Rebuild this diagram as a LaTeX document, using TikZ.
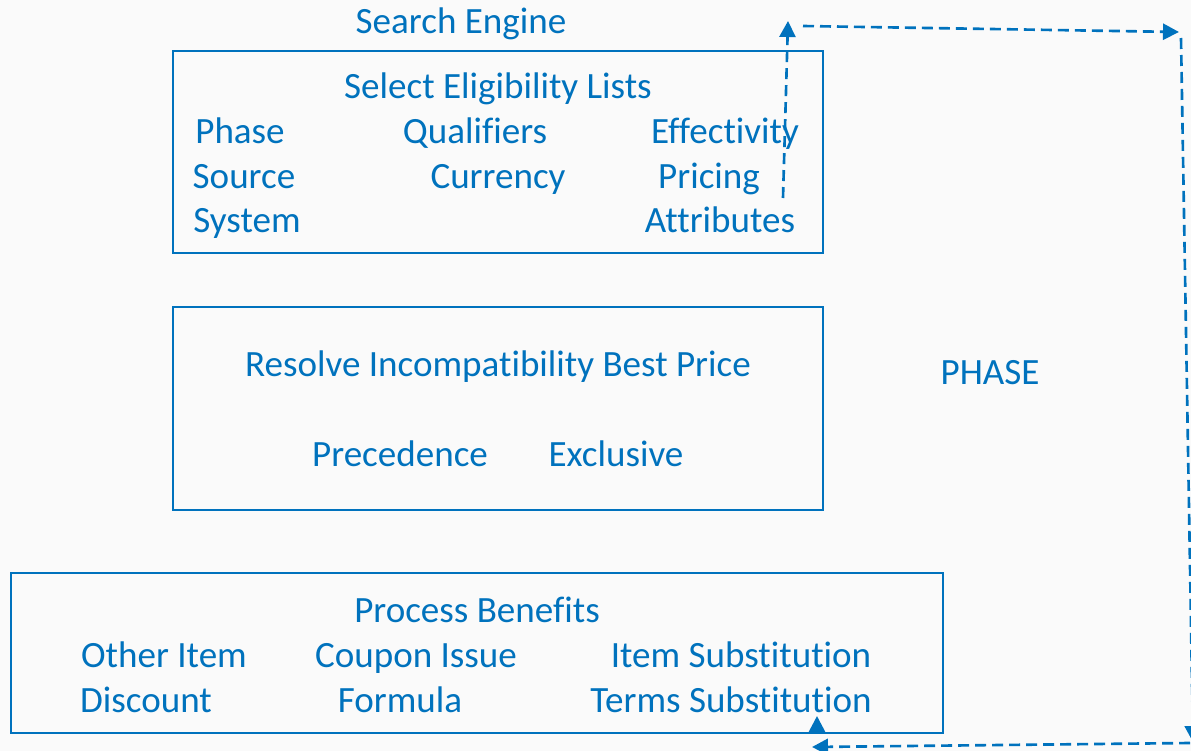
\documentclass[tikz,border=0pt]{standalone}
\usepackage{fontspec}
\setmainfont[RawFeature=-liga]{Carlito}
\usetikzlibrary{arrows.meta}
\definecolor{blu}{RGB}{0,114,189}
\definecolor{paper}{RGB}{250,250,250}
\begin{document}
\begin{tikzpicture}[x=0.02cm, y=-0.02cm,
  box/.style={draw=blu, line width=1.1pt, inner sep=0pt},
  lbl/.style={text=blu, anchor=base, inner sep=0pt, font=\fontsize{21.1}{25}\selectfont},
  flow/.style={draw=blu, line width=1.5pt, dash pattern=on 0.22cm off 0.12cm, -{Triangle[length=0.32cm, width=0.32cm]}}]
\fill [paper] (0,0) rectangle (1191,751);
\useasboundingbox (0,0) rectangle (1191,751);
% boxes
\node (sel) [box, minimum width=13cm, minimum height=4.04cm] at (498,152) {};
\node (res) [box, minimum width=13cm, minimum height=4.06cm] at (498,408.5) {};
\node (ben) [box, minimum width=18.64cm, minimum height=3.2cm] at (477,653) {};
% labels
\node (eng) [lbl] at (461,33) {Search Engine};
\node (selt) [lbl] at (498,98) {Select Eligibility Lists};
\node (pha) [lbl] at (240,143) {Phase};
\node (qua) [lbl] at (475,143) {Qualifiers};
\node (eff) [lbl] at (725,143) {Effectivity};
\node (sou) [lbl] at (244,188) {Source};
\node (cur) [lbl] at (498,188) {Currency};
\node (pri) [lbl] at (709,188) {Pricing};
\node (sys) [lbl] at (247,232) {System};
\node (att) [lbl] at (720,232) {Attributes};
\node (rest) [lbl] at (498,376) {Resolve Incompatibility Best Price};
\node (pre) [lbl] at (400,466) {Precedence};
\node (exc) [lbl] at (616,466) {Exclusive};
\node (phs) [lbl] at (990,384) {PHASE};
\node (bent) [lbl] at (477,622) {Process Benefits};
\node (oth) [lbl] at (164,667) {Other Item};
\node (cou) [lbl] at (416,667) {Coupon Issue};
\node (ite) [lbl] at (741,667) {Item Substitution};
\node (dis) [lbl] at (146,712) {Discount};
\node (for) [lbl] at (400,712) {Formula};
\node (ter) [lbl] at (731,712) {Terms Substitution};
% loop
\coordinate (up0) at (783,198);
\coordinate (up1) at (788,21);
\coordinate (tr0) at (803,26);
\coordinate (tr1) at (1179,32);
\coordinate (rt0) at (1181,38);
\coordinate (rt1) at (1193,742);
\coordinate (bt0) at (1190,743);
\coordinate (bt1) at (812,747);
\coordinate (in0) at (817,733);
\coordinate (in1) at (817,716);
\draw [flow] (up0) -- (up1);
\draw [flow] (tr0) -- (tr1);
\draw [flow] (rt0) -- (rt1);
\draw [flow] (bt0) -- (bt1);
\draw [flow] (in0) -- (in1);
\end{tikzpicture}
\end{document}
